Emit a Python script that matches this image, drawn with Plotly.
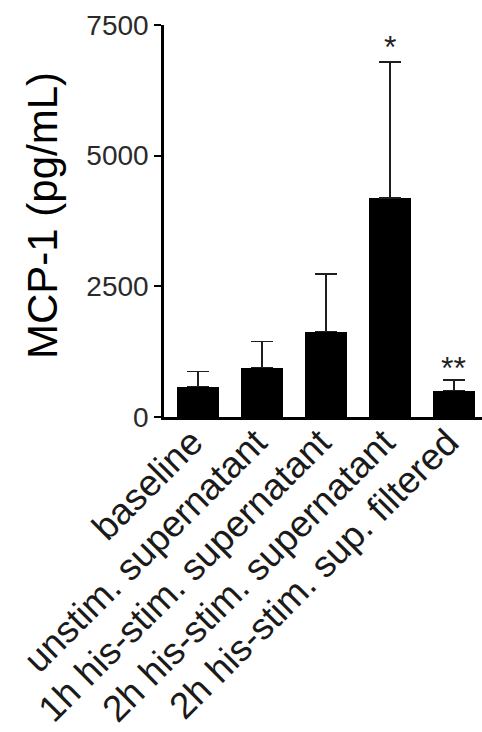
import plotly.graph_objects as go

categories = ["baseline", "unstim. supernatant", "1h his-stim. supernatant",
              "2h his-stim. supernatant", "2h his-stim. sup. filtered"]
means = [580, 943, 1632, 4190, 503]
errors = [287, 505, 1104, 2602, 205]
sig_labels = ["", "", "", "*", "**"]
sig_y = [None, None, None, 7230, 1090]
y_ticks = [0, 2500, 5000, 7500]

fig = go.Figure()
fig.add_trace(go.Bar(
    x=list(range(len(categories))), y=means, width=0.665,
    marker=dict(color="black", line=dict(width=0)),
    error_y=dict(type="data", symmetric=False, array=errors,
                 arrayminus=[0] * len(errors), color="#1e1e1e",
                 thickness=1.5, width=11),
    showlegend=False,
))

for i, (lab, yy) in enumerate(zip(sig_labels, sig_y)):
    if lab:
        fig.add_annotation(x=i, y=yy, text=lab, showarrow=False,
                           xref="x", yref="y", yanchor="middle",
                           font=dict(size=32, color="#222222",
                                     family="Liberation Sans, Arial"),
                           yshift=-8)

fig.add_annotation(text="MCP-1 (pg/mL)", textangle=-90, showarrow=False,
                   xref="paper", yref="paper",
                   x=(42 - 164) / 318, y=(417 - 215) / 392,
                   xanchor="center", yanchor="middle",
                   font=dict(size=42, color="black",
                             family="Liberation Sans, Arial"))

fig.update_layout(
    width=482, height=732,
    margin=dict(l=164, r=0, t=25, b=315, pad=0, autoexpand=False),
    plot_bgcolor="white", paper_bgcolor="white",
    font=dict(family="Liberation Sans, Arial", color="#1a1a1a"),
    bargap=0,
)
fig.update_xaxes(
    range=[-0.53, 4.44], tickmode="array", automargin=False,
    tickvals=list(range(len(categories))), ticktext=categories,
    tickangle=-45, tickfont=dict(size=37, color="#1a1a1a"),
    ticklabelstandoff=-14, ticklabelshift=-6,
    showline=True, linecolor="black", linewidth=2.5,
    ticks="", showgrid=False, zeroline=False,
)
fig.update_yaxes(
    range=[0, 7500], tickmode="array", tickvals=y_ticks, automargin=False,
    ticktext=[str(v) for v in y_ticks],
    tickfont=dict(size=28, color="#2a2a2a"),
    showline=True, linecolor="black", linewidth=2.5,
    ticks="outside", ticklen=7, tickwidth=2, tickcolor="black",
    showgrid=False, zeroline=False,
)

fig.write_html("out.html")
